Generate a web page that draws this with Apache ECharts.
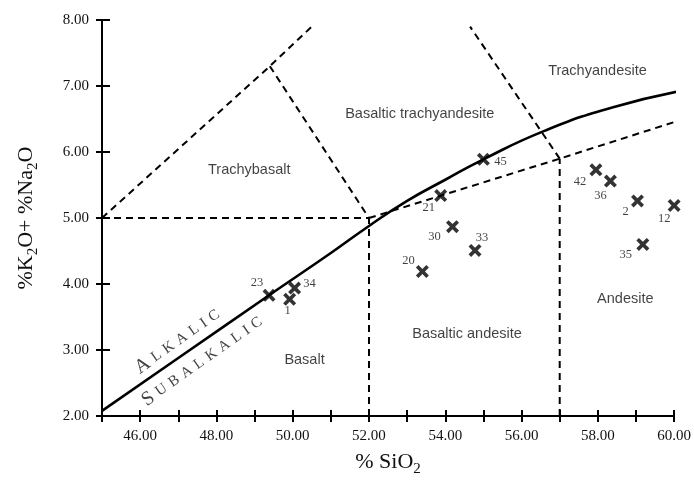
<!DOCTYPE html>
<html>
<head>
<meta charset="utf-8">
<script src="https://cdn.jsdelivr.net/npm/echarts@6/dist/echarts.min.js"></script>
<style>html,body{margin:0;padding:0;background:#fff}#c{width:694px;height:482px}</style>
</head>
<body>
<div id="c"></div>
<script>
// ---- data ----
const sampleIds  = ['1','2','12','20','21','23','30','33','34','35','36','42','45'];
const sampleSiO2 = [49.92, 59.04, 60.0, 53.40, 53.88, 49.38, 54.19, 54.78, 50.05, 59.18, 58.33, 57.95, 55.0];
const sampleAlk  = [3.77, 5.26, 5.19, 4.19, 5.34, 3.83, 4.87, 4.51, 3.94, 4.60, 5.56, 5.73, 5.89];

// alkalic / subalkalic boundary (solid)
const divideSiO2 = [45, 47, 49.38, 51, 52, 53, 54, 55, 56.6, 58.4, 60.4];
const divideAlk  = [2.08, 2.88, 3.83, 4.47, 4.88, 5.26, 5.58, 5.89, 6.32, 6.68, 6.95];

// TAS field boundaries (dashed)
const tbTopSiO2 = [45, 49.4, 50.5];   const tbTopAlk = [5, 7.3, 7.9];
const tbRightSiO2 = [49.4, 52];       const tbRightAlk = [7.3, 5];
const tbBaseSiO2 = [45, 52];          const tbBaseAlk = [5, 5];
const btaBaseSiO2 = [52, 57, 60.2];   const btaBaseAlk = [5, 5.9, 6.49];
const v52SiO2 = [52, 52];             const v52Alk = [2, 5];
const v57SiO2 = [57, 57];             const v57Alk = [2, 5.9];
const taSiO2 = [57, 54.65];           const taAlk = [5.9, 7.9];

// field names
const fieldNames = ['Trachybasalt', 'Basaltic trachyandesite', 'Trachyandesite', 'Basalt', 'Basaltic andesite', 'Andesite'];
const fieldSiO2  = [48.86, 53.33, 57.99, 50.31, 54.57, 58.72];
const fieldAlk   = [5.73, 6.58, 7.23, 2.85, 3.25, 3.77];

// series names along the divide
const divideNames = ['ALKALIC', 'SUBALKALIC'];
const divideNameSiO2 = [46.98, 47.63];
const divideNameAlk  = [3.13, 2.83];

// tick labels
const xTickValues = [46, 48, 50, 52, 54, 56, 58, 60];
const xTickLabels = ['46.00','48.00','50.00','52.00','54.00','56.00','58.00','60.00'];
const yTickValues = [2, 3, 4, 5, 6, 7, 8];
const yTickLabels = ['2.00','3.00','4.00','5.00','6.00','7.00','8.00'];

// ---- styling (label placement for each sample, pixels) ----
const labelOffsets = {
  '1':[-2,11], '2':[-12,11], '12':[-10,13], '20':[-14,-11], '21':[-12,12],
  '23':[-12,-13], '30':[-18,10], '33':[7,-13], '34':[15,-4], '35':[-17,10],
  '36':[-10,15], '42':[-16,12], '45':[17,2]
};

const pair = (xs, ys) => xs.map((x, i) => [x, ys[i]]);
const serif = 'Liberation Serif';
const sans = 'Liberation Sans';
const crossPath = 'path://M0,2.6L2.6,0L6.5,3.9L10.4,0L13,2.6L9.1,6.5L13,10.4L10.4,13L6.5,9.1L2.6,13L0,10.4L3.9,6.5Z';

function smallCaps(word) {
  let s = '{big|' + word[0] + '}';
  for (let i = 1; i < word.length; i++) s += '{gap| }{sm|' + word[i] + '}';
  return s;
}

const dashStyle = { color: '#000', width: 2, type: [7, 5] };
function dashSeries(xs, ys) {
  return { type: 'line', data: pair(xs, ys), symbol: 'none', lineStyle: dashStyle, clip: false, silent: true, z: 2 };
}

const fmtX = v => { const i = xTickValues.indexOf(v); return i >= 0 ? xTickLabels[i] : ''; };
const fmtY = v => { const i = yTickValues.indexOf(v); return i >= 0 ? yTickLabels[i] : ''; };

const chart = echarts.init(document.getElementById('c'), null, { renderer: 'canvas' });
const axisLine = { show: true, lineStyle: { color: '#000', width: 2 } };
const nameRich = {
  a: { fontFamily: serif, fontSize: 22, color: '#111', lineHeight: 24 },
  s: { fontFamily: serif, fontSize: 15, color: '#111', lineHeight: 24, padding: [14, 0, 0, 0] }
};

chart.setOption({
  backgroundColor: '#fff',
  animation: false,
  grid: { left: 102, right: 19, top: 20, bottom: 62 },
  xAxis: [
    { type: 'value', min: 45, max: 60, interval: 1, position: 'bottom',
      axisLine: axisLine,
      axisTick: { show: true, length: 6, lineStyle: { color: '#000', width: 2 } },
      axisLabel: { formatter: fmtX, margin: 12, fontFamily: serif, fontSize: 15, color: '#111' },
      splitLine: { show: false },
      name: '{a|% SiO}{s|2}', nameLocation: 'middle', nameGap: 30,
      nameTextStyle: { rich: nameRich }
    },
    { type: 'value', min: 45, max: 60, interval: 1, position: 'bottom',
      axisLine: { show: false },
      axisTick: { show: true, inside: true, length: 6, lineStyle: { color: '#000', width: 2 } },
      axisLabel: { show: false }, splitLine: { show: false }
    }
  ],
  yAxis: [
    { type: 'value', min: 2, max: 8, interval: 1, position: 'left',
      axisLine: axisLine,
      axisTick: { show: true, length: 6, lineStyle: { color: '#000', width: 2 } },
      axisLabel: { formatter: fmtY, margin: 13, fontFamily: serif, fontSize: 15, color: '#111' },
      splitLine: { show: false },
      name: '{a|%K}{s|2}{a|O+ %Na}{s|2}{a|O}', nameLocation: 'middle', nameGap: 64, nameRotate: 90,
      nameTextStyle: { rich: nameRich }
    },
    { type: 'value', min: 2, max: 8, interval: 1, position: 'left',
      axisLine: { show: false },
      axisTick: { show: true, inside: true, length: 8, lineStyle: { color: '#000', width: 2 } },
      axisLabel: { show: false }, splitLine: { show: false }
    }
  ],
  series: [
    dashSeries(tbTopSiO2, tbTopAlk),
    dashSeries(tbRightSiO2, tbRightAlk),
    dashSeries(tbBaseSiO2, tbBaseAlk),
    dashSeries(btaBaseSiO2, btaBaseAlk),
    dashSeries(v52SiO2, v52Alk),
    dashSeries(v57SiO2, v57Alk),
    dashSeries(taSiO2, taAlk),
    { type: 'line', data: pair(divideSiO2, divideAlk), smooth: 0.5, symbol: 'none', clip: false,
      lineStyle: { color: '#000', width: 2.6 }, z: 3, silent: true },
    { type: 'scatter', clip: false, symbol: crossPath, symbolSize: 13, z: 5,
      itemStyle: { color: '#000' },
      data: sampleIds.map((id, i) => ({ name: id, value: [sampleSiO2[i], sampleAlk[i]],
        label: { offset: labelOffsets[id] } })),
      label: { show: true, position: 'inside', formatter: p => p.name,
        fontFamily: serif, fontSize: 12.5, color: '#111' }
    },
    { type: 'scatter', symbolSize: 0, silent: true, z: 4,
      data: fieldNames.map((n, i) => ({ name: n, value: [fieldSiO2[i], fieldAlk[i]] })),
      label: { show: true, position: 'inside', formatter: p => p.name,
        fontFamily: sans, fontSize: 14.5, color: '#111' }
    },
    { type: 'scatter', symbolSize: 0, silent: true, z: 4,
      data: divideNames.map((n, i) => ({ name: n, value: [divideNameSiO2[i], divideNameAlk[i]] })),
      label: { show: true, position: 'inside', rotate: 35, formatter: p => smallCaps(p.name),
        rich: {
          big: { fontFamily: serif, fontSize: 20, color: '#111' },
          sm: { fontFamily: serif, fontSize: 15, color: '#111' },
          gap: { fontFamily: serif, fontSize: 20 }
        } }
    }
  ]
});
</script>
</body>
</html>
